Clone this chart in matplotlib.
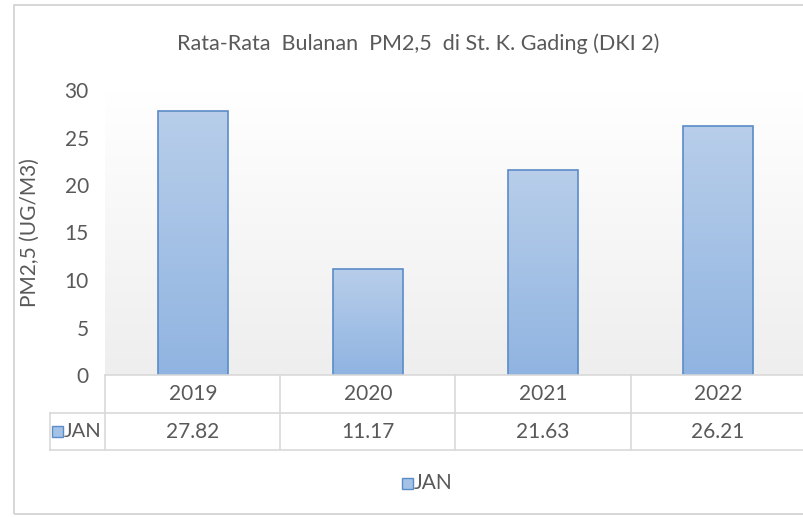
import numpy as np
import matplotlib.pyplot as plt
from matplotlib.patches import Rectangle
from matplotlib.lines import Line2D

years = ['2019', '2020', '2021', '2022']
jan = [27.82, 11.17, 21.63, 26.21]
yticks = [0, 5, 10, 15, 20, 25, 30]

plt.rcParams['font.family'] = ['Lato', 'DejaVu Sans']
txt = '#595959'
grid_c = '#d9d9d9'

W, H = 804, 517
fig = plt.figure(figsize=(W / 100, H / 100), dpi=100)


def fx(px):
    return px / W


def fy(py):
    return 1 - py / H


# outer chart border
fig.patches.append(Rectangle((fx(14), fy(514)), 1, fy(5) - fy(514), transform=fig.transFigure,
                             fill=False, edgecolor='#d0d0d0', lw=1.2))

x0, x1 = 105.5, 805.5
ytop, ybot = 90, 375
ax = fig.add_axes([fx(x0), fy(ybot), fx(x1 - x0), fy(ytop) - fy(ybot)])

# plot area gradient
grad = np.linspace(1, 0, 256).reshape(-1, 1)
bg = np.ones((256, 1, 3))
c_top = np.array([1.0, 1.0, 1.0])
c_bot = np.array([0xee, 0xee, 0xee]) / 255
bg[:, 0, :] = c_bot + (c_top - c_bot) * grad
ax.imshow(bg, extent=[-0.5, 3.5, 0, 30], aspect='auto', zorder=0)

bars = ax.bar(range(len(years)), jan, width=0.4, color='none', edgecolor='#5b8cc8', lw=1.2, zorder=3)
b_top = np.array([0xb8, 0xce, 0xea]) / 255
b_bot = np.array([0x90, 0xb4, 0xe1]) / 255
bar_img = np.ones((256, 1, 3))
bar_img[:, 0, :] = b_bot + (b_top - b_bot) * grad
for b in bars:
    im = ax.imshow(bar_img, extent=[b.get_x(), b.get_x() + b.get_width(), 0, b.get_height()],
                   aspect='auto', zorder=2)
    im.set_clip_path(b)
ax.set_xlim(-0.5, 3.5)
ax.set_ylim(0, 30)

for s in ax.spines.values():
    s.set_visible(False)
ax.set_xticks([])
ax.set_yticks(yticks)
ax.tick_params(axis='y', length=0, pad=12, labelsize=15, labelcolor=txt)
ax.set_ylabel('PM2,5 (UG/M3)', fontsize=15, color=txt, labelpad=18)

fig.text(fx(418), fy(44), 'Rata-Rata  Bulanan  PM2,5  di St. K. Gading (DKI 2)', ha='center', va='center',
         fontsize=15.5, color=txt)

# data table
r0, r1, r2 = 375, 413, 450
lines = [((x0, W + 2), (r0, r0)), ((50, W + 2), (r1, r1)), ((50, W + 2), (r2, r2)),
         ((50, 50), (r1, r2))]
cw = (x1 - x0) / len(years)
for i in range(len(years)):
    xb = x0 + i * cw
    lines.append(((xb, xb), (r0, r2)))
for (xs, ys) in lines:
    fig.add_artist(Line2D([fx(v) for v in xs], [fy(v) for v in ys], transform=fig.transFigure,
                          color=grid_c, lw=1.2))

for i, (yr, v) in enumerate(zip(years, jan)):
    xc = x0 + (i + 0.5) * cw
    fig.text(fx(xc), fy((r0 + r1) / 2), yr, ha='center', va='center', fontsize=15, color=txt)
    fig.text(fx(xc), fy((r1 + r2) / 2), f'{v:.2f}', ha='center', va='center', fontsize=15, color=txt)


def swatch(px, py):
    fig.patches.append(Rectangle((fx(px), fy(py + 5.5)), fx(11), fy(py - 5.5) - fy(py + 5.5),
                                 transform=fig.transFigure, facecolor='#a4c2e6', edgecolor='#5b8cc8', lw=1))


swatch(52, (r1 + r2) / 2)
fig.text(fx(64), fy((r1 + r2) / 2), 'JAN', ha='left', va='center', fontsize=14.5, color=txt)

# legend
swatch(402, 483)
fig.text(fx(414), fy(483), 'JAN', ha='left', va='center', fontsize=15, color=txt)

fig.savefig('out.png', dpi=100)
